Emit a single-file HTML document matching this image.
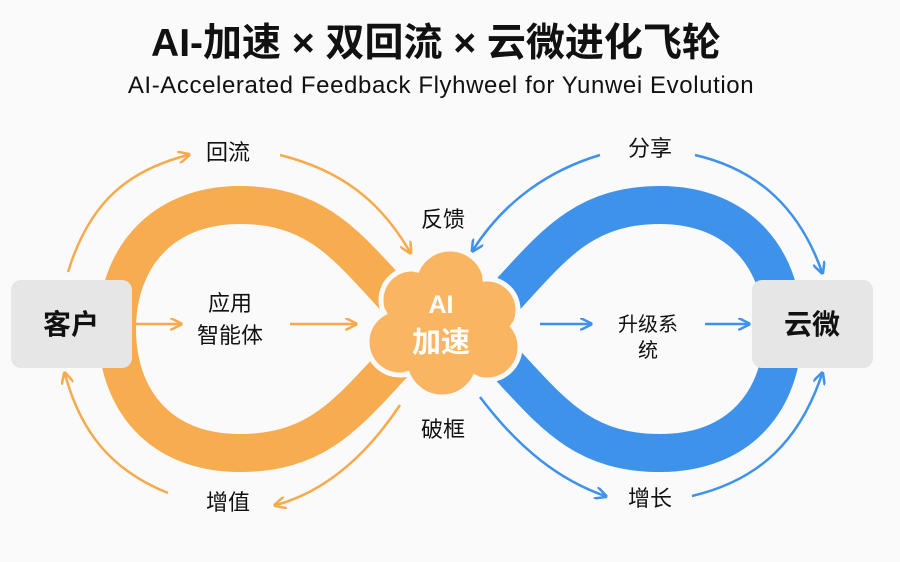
<!DOCTYPE html>
<html><head><meta charset="utf-8"><style>
body{margin:0;width:900px;height:557px;background:#fafafa;overflow:hidden;font-family:"Liberation Sans","Noto Sans CJK SC",sans-serif;}
</style></head><body>
<svg width="900" height="557" viewBox="0 0 900 557" xmlns="http://www.w3.org/2000/svg" style="font-family:'Liberation Sans','Noto Sans CJK SC',sans-serif">
<defs>
<marker id="ao" viewBox="0 0 10 10" refX="8" refY="5" markerWidth="5" markerHeight="5" orient="auto"><path d="M0,0 L10,5 L0,10" fill="none" stroke="#f6aa4c" stroke-width="2"/></marker>
<marker id="ab" viewBox="0 0 10 10" refX="8" refY="5" markerWidth="5" markerHeight="5" orient="auto"><path d="M0,0 L10,5 L0,10" fill="none" stroke="#3e92ea" stroke-width="2"/></marker>
</defs>
<text x="436" y="56" text-anchor="middle" font-size="39" font-weight="bold" fill="#111">AI-加速 × 双回流 × 云微进化飞轮</text>
<text x="441" y="93" text-anchor="middle" font-size="24" letter-spacing="0.6" fill="#111">AI-Accelerated Feedback Flyhweel for Yunwei Evolution</text>
<path d="M400,303 C350,250 320,205 240,205 C160,205 117,260 117,329 C117,400 160,453 240,453 C320,453 350,410 400,357" fill="none" stroke="#f7ac4f" stroke-width="38"/>
<path d="M500,303 C550,250 580,205 660,205 C740,205 783,260 783,329 C783,400 740,453 660,453 C580,453 550,410 500,357" fill="none" stroke="#3e92ea" stroke-width="38"/>
<rect x="11" y="280" width="121" height="88" rx="10" fill="#e6e6e6"/>
<text x="71" y="334" text-anchor="middle" font-size="28" font-weight="bold" fill="#111">客户</text>
<rect x="752" y="280" width="121" height="88" rx="10" fill="#e6e6e6"/>
<text x="812" y="334" text-anchor="middle" font-size="28" font-weight="bold" fill="#111">云微</text>
<g fill="#f9b562" stroke="#fafafa" stroke-width="5">
<circle cx="412" cy="300" r="31"/><circle cx="450" cy="285" r="36"/><circle cx="487" cy="310" r="31"/>
<circle cx="400" cy="342" r="33"/><circle cx="487" cy="347" r="33"/><circle cx="442" cy="360" r="37"/>
</g>
<g fill="#f9b562"><circle cx="412" cy="300" r="28"/><circle cx="450" cy="285" r="33"/><circle cx="487" cy="310" r="28"/>
<circle cx="400" cy="342" r="30"/><circle cx="487" cy="347" r="30"/><circle cx="442" cy="360" r="34"/><circle cx="443" cy="325" r="40"/></g>
<text x="441" y="313" text-anchor="middle" font-size="25" font-weight="bold" fill="#fff">AI</text>
<text x="441" y="352" text-anchor="middle" font-size="29" font-weight="bold" fill="#fff">加速</text>
<g fill="none" stroke="#f6aa4c" stroke-width="2.5" marker-end="url(#ao)">
<path d="M68,272 C90,200 130,170 188,155"/>
<path d="M280,155 C340,170 380,200 410,252"/>
<path d="M400,405 C370,450 330,490 276,505"/>
<path d="M168,493 C110,470 80,430 65,374"/>
<path d="M133,324 L180,324"/>
<path d="M290,324 L355,324"/>
</g>
<g fill="none" stroke="#3e92ea" stroke-width="2.5" marker-end="url(#ab)">
<path d="M600,155 C550,170 505,200 473,250"/>
<path d="M695,155 C760,170 800,210 822,272"/>
<path d="M480,397 C520,450 560,480 605,496"/>
<path d="M692,496 C760,480 800,440 822,374"/>
<path d="M540,324 L590,324"/>
<path d="M705,324 L748,324"/>
</g>
<g font-size="22" fill="#111" text-anchor="middle">
<text x="228" y="160">回流</text>
<text x="443" y="227">反馈</text>
<text x="443" y="437">破框</text>
<text x="228" y="510">增值</text>
<text x="230" y="311">应用</text>
<text x="230" y="343">智能体</text>
<text x="650" y="156">分享</text>
<text x="650" y="506">增长</text>
<text x="648" y="331" font-size="20">升级系</text>
<text x="648" y="357" font-size="20">统</text>
</g>
</svg>
</body></html>
